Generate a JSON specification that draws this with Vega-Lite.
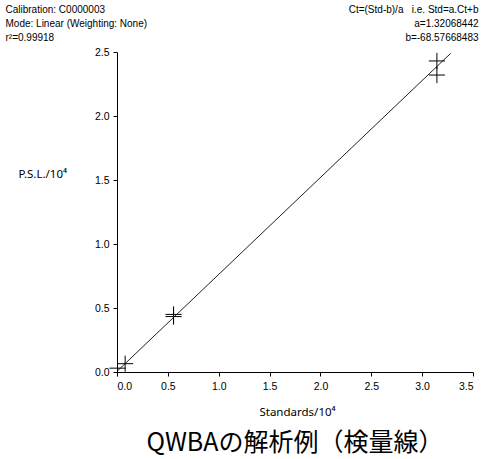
{
  "$schema": "https://vega.github.io/schema/vega-lite/v6.json",
  "width": 356,
  "height": 320,
  "autosize": {"type": "none"},
  "padding": {"left": 117, "top": 52, "right": 9, "bottom": 87},
  "background": "white",
  "config": {
    "view": {"stroke": null},
    "font": "Liberation Sans",
    "axis": {
      "grid": false,
      "domainColor": "black",
      "tickColor": "black",
      "labelColor": "black",
      "titleColor": "black",
      "labelFont": "Liberation Sans",
      "titleFont": "Liberation Sans",
      "labelFontSize": 10.5,
      "titleFontSize": 10,
      "titleFontWeight": "normal",
      "tickSize": 4
    }
  },
  "datasets": {
    "fit": [
      {"standards": 0.0, "psl": 0.0052},
      {"standards": 3.28, "psl": 2.489}
    ],
    "points": [
      {"standards": 0.005, "psl": 0.03},
      {"standards": 0.08, "psl": 0.065},
      {"standards": 0.556, "psl": 0.45},
      {"standards": 0.556, "psl": 0.433},
      {"standards": 3.145, "psl": 2.43},
      {"standards": 3.145, "psl": 2.32}
    ]
  },
  "title": {
    "text": "QWBAの解析例（検量線）",
    "orient": "bottom",
    "anchor": "middle",
    "frame": "group",
    "font": "Noto Sans CJK JP",
    "fontSize": 25,
    "fontWeight": "normal",
    "color": "black",
    "offset": 13
  },
  "layer": [
    {
      "data": {"name": "fit"},
      "mark": {"type": "line", "color": "#222222", "strokeWidth": 1},
      "encoding": {
        "x": {
          "field": "standards",
          "type": "quantitative",
          "scale": {"domain": [0, 3.5], "nice": false, "zero": true},
          "axis": {
            "values": [0, 0.5, 1, 1.5, 2, 2.5, 3, 3.5],
            "format": ".1f",
            "title": "Standards/10⁴",
            "titleFont": "Noto Sans",
            "titleFontSize": 11.5,
            "titleX": 180,
            "titleY": 40,
            "titleAlign": "center",
            "titleBaseline": "middle",
            "labelPadding": 5
          }
        },
        "y": {
          "field": "psl",
          "type": "quantitative",
          "scale": {"domain": [0, 2.5], "nice": false, "zero": true},
          "axis": {
            "values": [0, 0.5, 1, 1.5, 2, 2.5],
            "format": ".1f",
            "title": "P.S.L./10⁴",
            "titleFont": "Noto Sans",
            "titleFontSize": 11.5,
            "titleAngle": 0,
            "titleX": -99,
            "titleY": 122,
            "titleAlign": "left",
            "titleBaseline": "middle",
            "labelPadding": 4
          }
        }
      }
    },
    {
      "data": {"name": "points"},
      "mark": {
        "type": "point",
        "shape": "M-1,0L1,0M0,-1L0,1",
        "filled": false,
        "color": "black",
        "strokeWidth": 1,
        "size": 260,
        "opacity": 1
      },
      "encoding": {
        "x": {
          "field": "standards",
          "type": "quantitative",
          "axis": {
            "orient": "top",
            "domain": false,
            "ticks": false,
            "labels": false,
            "title": ["Calibration: C0000003", "Mode: Linear (Weighting: None)", "r²=0.99918"],
            "titleX": -112,
            "titleY": -48,
            "titleAlign": "left",
            "titleBaseline": "top",
            "titleLineHeight": 14
          }
        },
        "y": {
          "field": "psl",
          "type": "quantitative",
          "axis": {
            "orient": "right",
            "domain": false,
            "ticks": false,
            "labels": false,
            "title": ["Ct=(Std-b)/a \u00a0 i.e. Std=a.Ct+b", "a=1.32068442", "b=-68.57668483"],
            "titleAngle": 0,
            "titleX": 5,
            "titleY": -48,
            "titleAlign": "right",
            "titleBaseline": "top",
            "titleLineHeight": 14
          }
        }
      }
    }
  ],
  "resolve": {"axis": {"x": "independent", "y": "independent"}}
}
